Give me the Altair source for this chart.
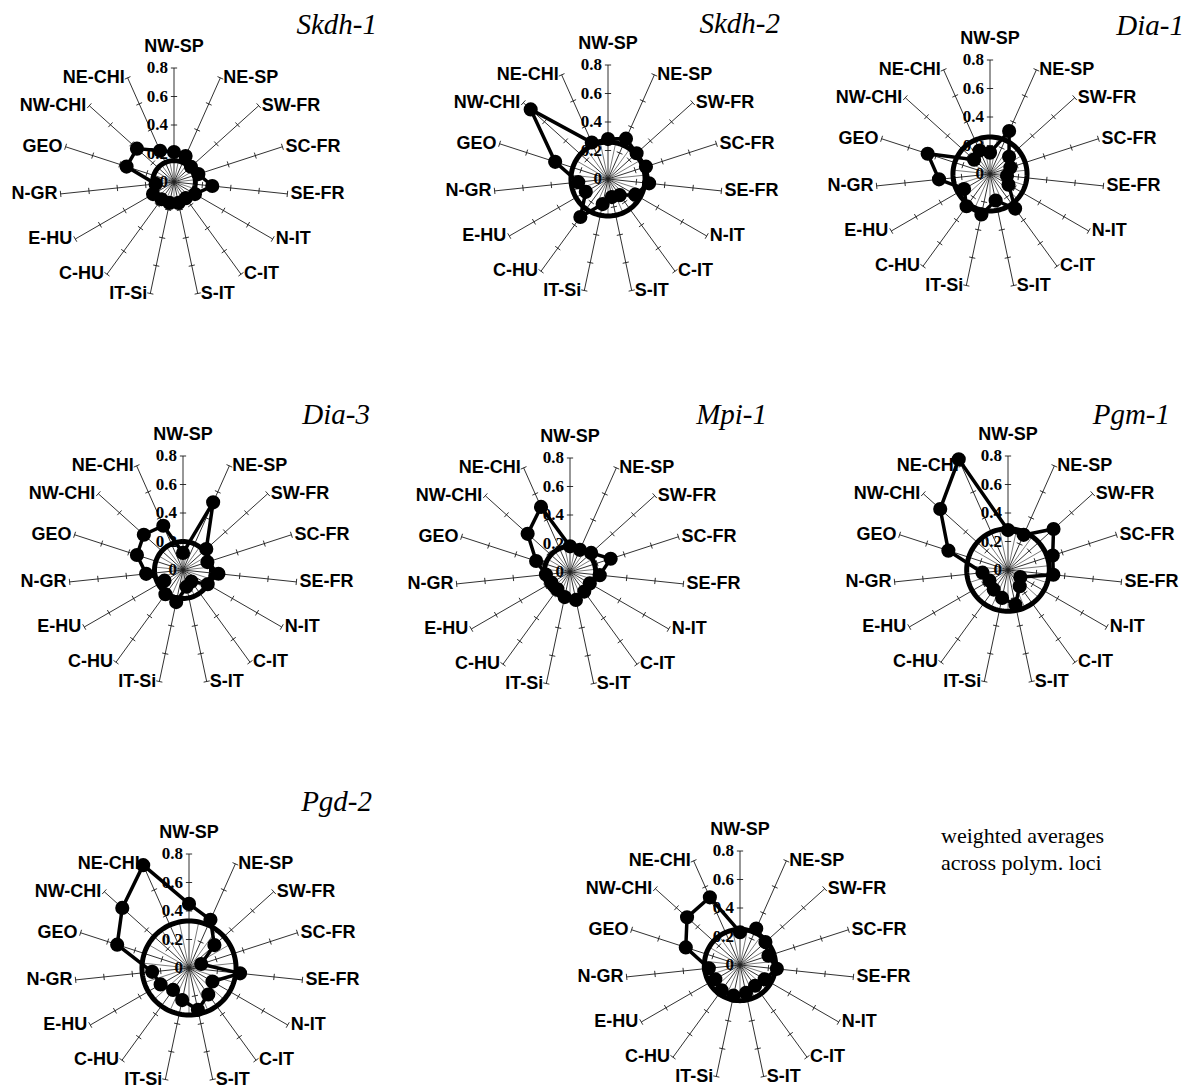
import altair as alt
import numpy as np
import pandas as pd

# ---------------- data ----------------
CATEGORIES = ["NW-SP", "NE-SP", "SW-FR", "SC-FR", "SE-FR", "N-IT", "C-IT", "S-IT",
              "IT-Si", "C-HU", "E-HU", "N-GR", "GEO", "NW-CHI", "NE-CHI"]

SKDH1 = [0.21, 0.20, 0.16, 0.18, 0.27, 0.17, 0.14, 0.15, 0.15, 0.15, 0.17, 0.13, 0.35, 0.35, 0.24]
SKDH2 = [0.28, 0.31, 0.27, 0.28, 0.29, 0.22, 0.14, 0.13, 0.18, 0.33, 0.18, 0.21, 0.39, 0.73, 0.28]
DIA1 = [0.15, 0.33, 0.18, 0.15, 0.12, 0.15, 0.30, 0.19, 0.29, 0.28, 0.21, 0.36, 0.46, 0.15, 0.18]
DIA3 = [0.12, 0.52, 0.22, 0.18, 0.25, 0.20, 0.10, 0.12, 0.23, 0.21, 0.15, 0.26, 0.34, 0.37, 0.34]
MPI1 = [0.18, 0.17, 0.20, 0.30, 0.21, 0.16, 0.17, 0.20, 0.18, 0.15, 0.15, 0.17, 0.25, 0.40, 0.50]
PGM1 = [0.28, 0.27, 0.43, 0.33, 0.32, 0.10, 0.14, 0.25, 0.20, 0.17, 0.15, 0.18, 0.44, 0.64, 0.85]
PGD2 = [0.45, 0.37, 0.24, 0.09, 0.36, 0.19, 0.23, 0.30, 0.23, 0.19, 0.23, 0.26, 0.53, 0.63, 0.79]
WEIGHTED = [0.23, 0.28, 0.24, 0.21, 0.26, 0.20, 0.18, 0.20, 0.22, 0.22, 0.20, 0.22, 0.40, 0.50, 0.52]

TITLES = ["Skdh-1", "Skdh-2", "Dia-1", "Dia-3", "Mpi-1", "Pgm-1", "Pgd-2", ""]
SERIES = [SKDH1, SKDH2, DIA1, DIA3, MPI1, PGM1, PGD2, WEIGHTED]
RINGS = [0.15, 0.26, 0.26, 0.20, 0.18, 0.29, 0.33, 0.25]

AXIS_MAX = 0.8
AXIS_TICKS = [0.2, 0.4, 0.6, 0.8]
TICK_LABEL_VALUES = [0.0, 0.2, 0.4, 0.6, 0.8]
TICK_LABELS = ["0", "0.2", "0.4", "0.6", "0.8"]
NOTE_LINES = ["weighted averages", "across polym. loci"]

# ---------------- layout ----------------
K = 142.5          # pixels per unit of value
TICK_HALF = 0.022  # half length of axis tick marks (value units)

# (width, height, centre x, centre y, title x, title y) per panel
LAYOUT = [
    (393, 390, 166, 174, 369, 26),
    (393, 390, 207, 171, 379, 25),
    (393, 390, 196, 166, 390, 27),
    (393, 390, 175, 172, 362, 26),
    (393, 390, 169, 174, 366, 26),
    (393, 390, 214, 172, 376, 26),
    (470, 295, 181, 178, 364, 21),
    (440, 295, 262, 175, 0, 0),
]

ANGLES = np.deg2rad(np.arange(len(CATEGORIES)) * 360.0 / len(CATEGORIES))


def make_panel(title, values, ring, W, H, cx, cy, tx, ty):
    xs = alt.Scale(domain=[-cx / K, (W - cx) / K], nice=False, zero=False)
    ys = alt.Scale(domain=[-(H - cy) / K, cy / K], nice=False, zero=False)

    def X(f):
        return alt.X(f, type="quantitative", scale=xs, axis=None)

    def Y(f):
        return alt.Y(f, type="quantitative", scale=ys, axis=None)

    s, c = np.sin(ANGLES), np.cos(ANGLES)

    spokes = pd.DataFrame({"x": 0.0, "y": 0.0, "x2": AXIS_MAX * s, "y2": AXIS_MAX * c})

    rows = []
    for i in range(len(CATEGORIES)):
        for t in AXIS_TICKS:
            rows.append({
                "x": t * s[i] - TICK_HALF * c[i], "y": t * c[i] + TICK_HALF * s[i],
                "x2": t * s[i] + TICK_HALF * c[i], "y2": t * c[i] - TICK_HALF * s[i],
            })
    ticks = pd.DataFrame(rows)

    half = ANGLES + np.pi / len(CATEGORIES)
    inner = pd.DataFrame({"x": 0.0, "y": 0.0, "x2": ring * np.sin(half), "y2": ring * np.cos(half)})

    circ = np.deg2rad(np.arange(0, 361, 3))
    ring_df = pd.DataFrame({"x": ring * np.sin(circ), "y": ring * np.cos(circ), "o": np.arange(len(circ))})

    v = np.array(values)
    pts = pd.DataFrame({"x": v * s, "y": v * c, "o": np.arange(len(v)), "cat": CATEGORIES})
    closed = pd.concat([pts, pts.iloc[[0]].assign(o=len(v))], ignore_index=True)

    lab = pd.DataFrame({"x": AXIS_MAX * s, "y": AXIS_MAX * c, "cat": CATEGORIES,
                        "deg": np.rad2deg(ANGLES)})
    lab_top = lab[lab.deg == 0]
    lab_right = lab[(lab.deg > 0) & (lab.deg < 180)]
    lab_left = lab[lab.deg > 180]

    tl = pd.DataFrame({"x": 0.0, "y": TICK_LABEL_VALUES, "t": TICK_LABELS})

    thin = dict(stroke="#1a1a1a", strokeWidth=0.9)
    lab_font = dict(font="Liberation Sans", fontWeight="bold", fontSize=18, color="black")

    layers = [
        alt.Chart(spokes).mark_rule(**thin).encode(x=X("x"), y=Y("y"), x2="x2", y2="y2"),
        alt.Chart(ticks).mark_rule(**thin).encode(x=X("x"), y=Y("y"), x2="x2", y2="y2"),
        alt.Chart(tl).mark_text(font="Liberation Serif", fontWeight="bold", fontSize=17,
                                align="right", baseline="middle", dx=-6, color="black")
        .encode(x=X("x"), y=Y("y"), text="t:N"),
        alt.Chart(lab_top).mark_text(align="center", baseline="bottom", dy=-12, **lab_font)
        .encode(x=X("x"), y=Y("y"), text="cat:N"),
        alt.Chart(lab_right).mark_text(align="left", baseline="middle", dx=3, **lab_font)
        .encode(x=X("x"), y=Y("y"), text="cat:N"),
        alt.Chart(lab_left).mark_text(align="right", baseline="middle", dx=-3, **lab_font)
        .encode(x=X("x"), y=Y("y"), text="cat:N"),
        alt.Chart(inner).mark_rule(stroke="#222222", strokeWidth=0.6).encode(
            x=X("x"), y=Y("y"), x2="x2", y2="y2"),
        alt.Chart(ring_df).mark_line(color="black", strokeWidth=5).encode(
            x=X("x"), y=Y("y"), order="o:Q"),
        alt.Chart(closed).mark_line(color="black", strokeWidth=3.5).encode(
            x=X("x"), y=Y("y"), order="o:Q"),
        alt.Chart(pts).mark_circle(size=200, color="black", opacity=1).encode(
            x=X("x"), y=Y("y")),
    ]
    if title:
        layers.append(
            alt.Chart(pd.DataFrame({"t": [title]})).mark_text(
                font="Liberation Serif", fontStyle="italic", fontSize=29,
                align="right", baseline="alphabetic", color="black")
            .encode(x=alt.value(tx), y=alt.value(ty), text="t:N")
        )
    return alt.layer(*layers).properties(width=W, height=H)


panels = [make_panel(TITLES[i], SERIES[i], RINGS[i], *LAYOUT[i]) for i in range(len(SERIES))]

note_layers = [
    alt.Chart(pd.DataFrame({"t": [line]})).mark_text(
        font="Liberation Serif", fontSize=22, align="left", baseline="alphabetic", color="black")
    .encode(x=alt.value(23), y=alt.value(53 + 27 * j), text="t:N")
    for j, line in enumerate(NOTE_LINES)
]
note = alt.layer(*note_layers).properties(width=269, height=295)

row1 = alt.hconcat(panels[0], panels[1], panels[2], spacing=0, bounds="flush")
row2 = alt.hconcat(panels[3], panels[4], panels[5], spacing=0, bounds="flush")
row3 = alt.hconcat(panels[6], panels[7], note, spacing=0, bounds="flush")

chart = (
    alt.vconcat(row1, row2, row3, spacing=0)
    .properties(padding=0)
    .configure_view(stroke=None)
)

chart.save("out.html", embed_options={"renderer": "svg", "actions": False})
